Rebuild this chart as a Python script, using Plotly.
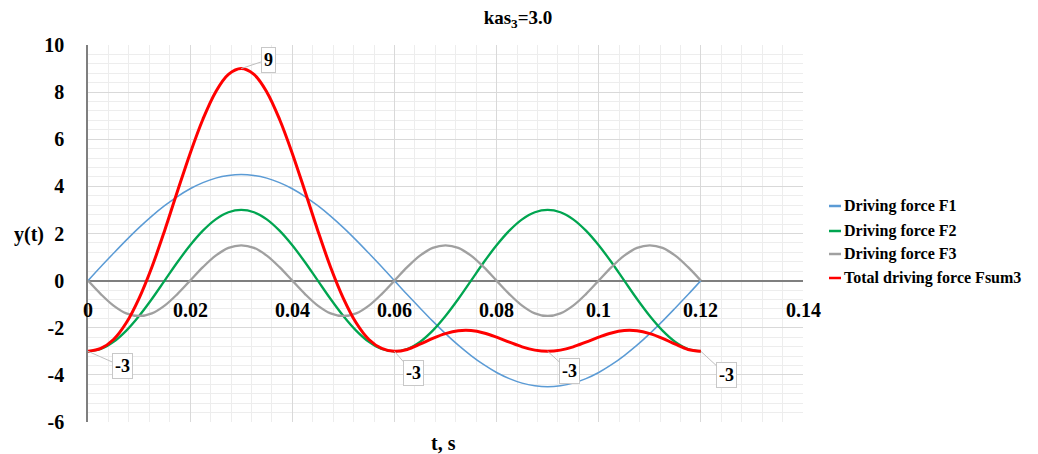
import plotly.graph_objects as go

# time samples, s (every 2.5 ms)
t = [round(0.0025 * i, 4) for i in range(49)]

f1 = [0.00, 0.59, 1.16, 1.72, 2.25, 2.74, 3.18, 3.57, 3.90, 4.16,
      4.35, 4.46, 4.50, 4.46, 4.35, 4.16, 3.90, 3.57, 3.18, 2.74,
      2.25, 1.72, 1.16, 0.59, 0.00, -0.59, -1.16, -1.72, -2.25, -2.74,
      -3.18, -3.57, -3.90, -4.16, -4.35, -4.46, -4.50, -4.46, -4.35, -4.16,
      -3.90, -3.57, -3.18, -2.74, -2.25, -1.72, -1.16, -0.59, 0.00]

f2 = [-3.00, -2.90, -2.60, -2.12, -1.50, -0.78, 0.00, 0.78, 1.50, 2.12,
      2.60, 2.90, 3.00, 2.90, 2.60, 2.12, 1.50, 0.78, 0.00, -0.78,
      -1.50, -2.12, -2.60, -2.90, -3.00, -2.90, -2.60, -2.12, -1.50, -0.78,
      0.00, 0.78, 1.50, 2.12, 2.60, 2.90, 3.00, 2.90, 2.60, 2.12,
      1.50, 0.78, 0.00, -0.78, -1.50, -2.12, -2.60, -2.90, -3.00]

f3 = [0.00, -0.57, -1.06, -1.39, -1.50, -1.39, -1.06, -0.57, 0.00, 0.57,
      1.06, 1.39, 1.50, 1.39, 1.06, 0.57, 0.00, -0.57, -1.06, -1.39,
      -1.50, -1.39, -1.06, -0.57, 0.00, 0.57, 1.06, 1.39, 1.50, 1.39,
      1.06, 0.57, 0.00, -0.57, -1.06, -1.39, -1.50, -1.39, -1.06, -0.57,
      0.00, 0.57, 1.06, 1.39, 1.50, 1.39, 1.06, 0.57, 0.00]

fsum = [-3.00, -2.88, -2.50, -1.79, -0.75, 0.57, 2.12, 3.78, 5.40, 6.85,
        8.01, 8.75, 9.00, 8.75, 8.01, 6.85, 5.40, 3.78, 2.12, 0.57,
        -0.75, -1.79, -2.50, -2.88, -3.00, -2.92, -2.70, -2.45, -2.25, -2.13,
        -2.12, -2.22, -2.40, -2.61, -2.81, -2.95, -3.00, -2.95, -2.81, -2.61,
        -2.40, -2.22, -2.12, -2.13, -2.25, -2.45, -2.70, -2.92, -3.00]

series_names = ["Driving force F1", "Driving force F2", "Driving force F3",
                "Total driving force Fsum3"]
series_colors = ["#5B9BD5", "#00A550", "#A0A0A0", "#FF0000"]
series_widths = [1.5, 2.3, 2.3, 3.0]

x_tick_vals = [0, 0.02, 0.04, 0.06, 0.08, 0.10, 0.12, 0.14]
x_tick_text = ["0", "0.02", "0.04", "0.06", "0.08", "0.1", "0.12", "0.14"]
y_tick_vals = [-6, -4, -2, 0, 2, 4, 6, 8, 10]
y_tick_text = ["-6", "-4", "-2", "0", "2", "4", "6", "8", "10"]

# labelled points of the total force: (t, value)
callouts = [(0.030, 9), (0.000, -3), (0.060, -3), (0.090, -3), (0.120, -3)]
callout_offsets = [(27, -9), (34, 15), (19, 22), (22, 20), (26, 24)]

FONT = "Liberation Serif"

fig = go.Figure()
for ys, name, color, width in zip([f1, f2, f3, fsum], series_names,
                                  series_colors, series_widths):
    fig.add_trace(go.Scatter(
        x=t, y=ys, name=name, mode="lines",
        line=dict(color=color, width=width, shape="spline", smoothing=1.0),
        showlegend=False,
    ))

# value call-outs on the total force curve
for (tx, ty), (ox, oy) in zip(callouts, callout_offsets):
    fig.add_annotation(
        x=tx, y=ty, text=str(ty), showarrow=True, arrowhead=0,
        arrowwidth=1, arrowcolor="#BFBFBF", ax=ox, ay=oy,
        bordercolor="#C8C8C8", borderwidth=1, borderpad=2, bgcolor="white",
        font=dict(family=FONT, size=18, color="black", weight="bold"),
    )

# x tick labels sit just under the zero line
for v, s in zip(x_tick_vals, x_tick_text):
    fig.add_annotation(
        x=v, y=0, text=s, showarrow=False, yshift=-29, xanchor="center",
        yanchor="middle",
        font=dict(family=FONT, size=20, color="black", weight="bold"),
    )

# legend drawn at the right of the plot
plot_l, plot_r, plot_t, plot_b = 88, 803, 45, 422
legend_rows = [206, 231, 254, 278]
for name, color, py in zip(series_names, series_colors, legend_rows):
    yp = (plot_b - py) / (plot_b - plot_t)
    fig.add_shape(
        type="line", xref="paper", yref="paper",
        x0=(829 - plot_l) / (plot_r - plot_l),
        x1=(841 - plot_l) / (plot_r - plot_l),
        y0=yp, y1=yp, line=dict(color=color, width=2.5),
    )
    fig.add_annotation(
        xref="paper", yref="paper", x=(842 - plot_l) / (plot_r - plot_l),
        y=yp, text=name, showarrow=False, xanchor="left", yanchor="middle",
        font=dict(family=FONT, size=16, color="black", weight="bold"),
    )

fig.add_annotation(
    xref="paper", yref="paper", x=(29 - plot_l) / (plot_r - plot_l),
    y=(plot_b - 234) / (plot_b - plot_t), text="y(t)", showarrow=False,
    xanchor="center", yanchor="middle",
    font=dict(family=FONT, size=20, color="black", weight="bold"),
)
fig.add_annotation(
    xref="paper", yref="paper", x=(443 - plot_l) / (plot_r - plot_l),
    y=(plot_b - 443) / (plot_b - plot_t), text="t, s", showarrow=False,
    xanchor="center", yanchor="middle",
    font=dict(family=FONT, size=20, color="black", weight="bold"),
)

fig.update_layout(
    width=1038, height=454,
    margin=dict(l=plot_l, r=1038 - plot_r, t=plot_t, b=454 - plot_b),
    paper_bgcolor="white", plot_bgcolor="white",
    font=dict(family=FONT, size=18, color="black", weight="bold"),
    title=dict(
        text="kas<sub>3</sub>=3.0", xref="container", x=518 / 1038,
        xanchor="center", yref="container", y=1 - 17 / 454, yanchor="middle",
        font=dict(family=FONT, size=19, color="black", weight="bold"),
    ),
    xaxis=dict(
        range=[0, 0.14], tickvals=x_tick_vals, showticklabels=False,
        showgrid=True, gridcolor="#D9D9D9", gridwidth=1,
        minor=dict(dtick=0.004, tick0=0, showgrid=True, gridcolor="#EDEDED",
                   gridwidth=1),
        zeroline=False, showline=False, ticks="",
    ),
    yaxis=dict(
        range=[-6, 10], tickvals=y_tick_vals, ticktext=y_tick_text,
        showgrid=True, gridcolor="#D9D9D9", gridwidth=1,
        minor=dict(dtick=0.4, tick0=0, showgrid=True, gridcolor="#EDEDED",
                   gridwidth=1),
        zeroline=True, zerolinecolor="#7F7F7F", zerolinewidth=1.5,
        showline=True, linecolor="#7F7F7F", linewidth=1.5,
        ticks="", ticklabelstandoff=18,
        tickfont=dict(family=FONT, size=20, color="black", weight="bold"),
    ),
)

fig.write_html("out.html")
